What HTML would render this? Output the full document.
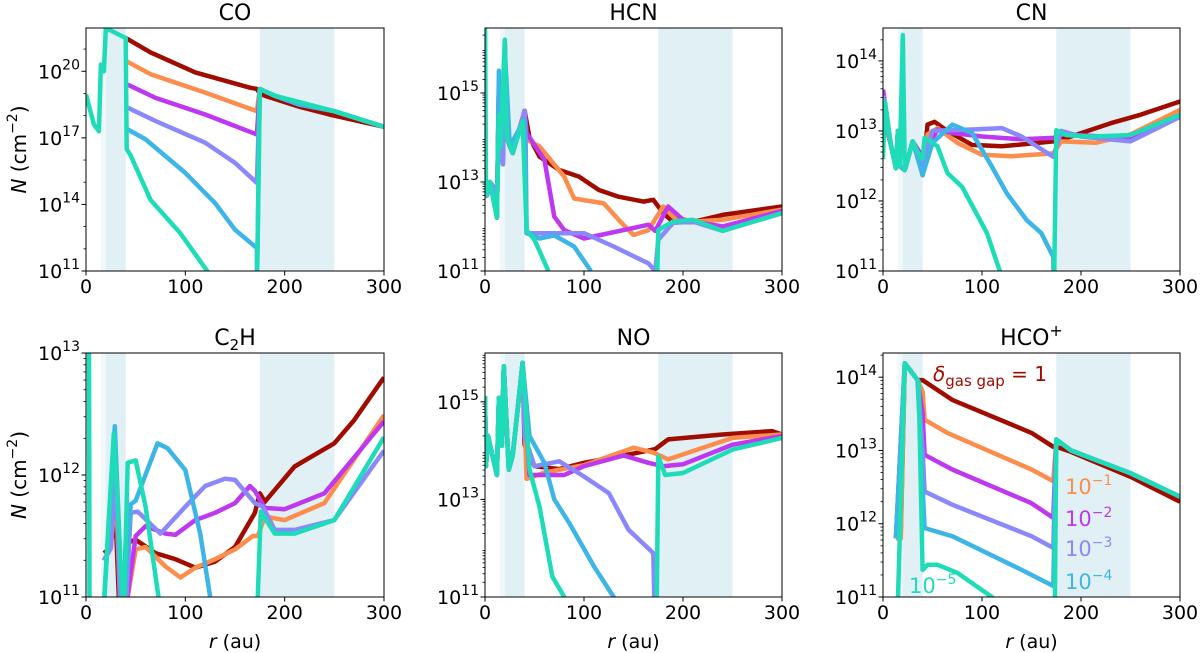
<!DOCTYPE html>
<html><head><meta charset="utf-8">
<style>
html,body{margin:0;padding:0;background:#fff;}
svg{display:block;font-family:"DejaVu Sans","Liberation Sans",sans-serif;}
</style></head>
<body>
<svg id="fig" width="1200" height="653" viewBox="0 0 1200 653" xmlns="http://www.w3.org/2000/svg"></svg>
<script>
// ---- data: [r (au), log10 N (cm^-2)] ----
const colors = ['#a00c00','#fd8d4c','#bd38ef','#8b88fb','#3db5e6','#1fdcb8'];
const seriesNames = ['delta-1','delta-1e-1','delta-1e-2','delta-1e-3','delta-1e-4','delta-1e-5'];

const coOuter = [[175,19.2],[190,18.9],[215,18.5],[250,18.2],[300,17.5]];
const coRed = [[40,21.5],[65,20.85],[110,19.95],[165,19.26],[172,19.2],[175,19.0],[180,18.9],[215,18.4],[245,18.05],[300,17.5]];
const coOrange = [[40,20.47],[65,19.87],[120,19.04],[172,18.2]].concat(coOuter);
const coPurple = [[42,19.4],[70,18.8],[120,18.05],[172,17.15]].concat(coOuter);
const coLav = [[42,18.36],[70,17.76],[120,16.78],[150,15.87],[172,14.97]].concat(coOuter);
const coBlue = [[42,17.38],[60,16.93],[100,15.42],[130,14.06],[150,12.86],[172,12.03],[172,10]].concat(coOuter);
const coTeal = [[0,18.96],[8,17.6],[13,17.3],[15,20.3],[18,20.0],[20,22.0],[22,21.9],[40,21.5],[41,16.5],[45,16.2],[65,14.2],[95,12.7],[122,11],[130,10],[172,10],[175,19.2],[190,18.9],[250,18.2],[300,17.5]];

const hcnInner = [[0,12.67],[2,12.7],[5,13.0],[8,12.9],[12,12.2],[14,15.2],[16,14.0],[18,13.4],[20,16.1],[22,14.0],[25,13.8],[28,13.65],[35,14.2],[40,14.6]];
const hcnRed = hcnInner.concat([[45,14.0],[55,13.57],[75,13.27],[95,13.12],[115,12.82],[135,12.67],[160,12.56],[170,12.6],[180,12.3],[190,12.1],[210,12.1],[240,12.26],[300,12.45]]);
const hcnOrange = hcnInner.concat([[42,13.95],[55,13.8],[80,13.12],[90,12.63],[120,12.52],[135,12.15],[150,11.81],[165,11.92],[180,12.45],[190,12.22],[210,12.11],[240,12.15],[300,12.38]]);
const hcnPurple = hcnInner.concat([[42,14.1],[60,13.5],[70,12.22],[80,11.92],[100,11.73],[140,11.92],[165,12.04],[172,11.9],[185,12.45],[200,12.15],[240,12.0],[300,12.35]]);
const hcnLav = hcnInner.concat([[41,14.0],[42,11.85],[100,11.85],[130,11.55],[165,11.17],[172,11.0],[175,11.7],[190,12.08],[210,12.11],[240,11.9],[300,12.3]]);
const hcnBlue = [[0,12.67],[5,13.0],[12,12.2],[14,15.5],[16,14.0],[20,16.0],[25,13.8],[35,14.2],[40,14.4],[42,11.85],[55,11.73],[70,11.8],[90,11.55],[107,11]];
const hcnTeal = [[0,17],[1,12.7],[5,13.0],[12,12.2],[14,14.5],[16,13.8],[20,16.2],[22,14.0],[25,13.8],[28,13.65],[38,14.36],[42,11.92],[50,11.7],[64,11],[70,10],[173,10],[175,11.92],[190,12.11],[210,12.15],[240,11.9],[300,12.3]];

const cnInner = [[0,13.2],[8,12.8],[13,12.47],[15,13.0],[17,12.5],[22,12.44],[30,12.85],[35,12.7],[40,12.37]];
const cnRed = cnInner.concat([[45,13.09],[52,13.13],[65,13.0],[90,12.8],[120,12.78],[150,12.82],[172,12.85],[190,12.92],[230,13.11],[260,13.23],[300,13.42]]);
const cnOrange = cnInner.concat([[45,12.95],[55,13.04],[75,12.83],[100,12.66],[130,12.64],[172,12.68],[180,12.85],[215,12.83],[250,12.95],[300,13.3]]);
const cnPurple = [[0,13.59],[8,12.8],[13,12.47],[15,13.0],[17,12.5],[22,12.44],[30,12.85],[40,12.63],[55,13.02],[70,12.97],[100,12.92],[140,12.88],[172,12.9],[180,12.95],[250,12.9],[300,13.23]];
const cnLav = [[0,13.5],[8,12.8],[13,12.47],[15,13.0],[17,12.5],[22,12.44],[30,12.85],[40,12.5],[50,13.0],[90,13.02],[120,13.04],[140,12.92],[172,12.63],[180,13.0],[200,12.92],[250,12.85],[300,13.2]];
const cnBlue = [[0,13.3],[8,12.8],[13,12.47],[15,13.0],[17,12.5],[22,12.44],[30,12.85],[40,12.37],[50,12.83],[70,13.09],[90,12.97],[110,12.49],[125,12.11],[145,11.73],[160,11.54],[172,11.2],[173,10]];
const cnTeal = [[0,12.6],[2,13.42],[8,12.8],[13,12.47],[15,13.0],[17,12.5],[20,14.37],[22,12.44],[30,12.85],[35,12.7],[40,12.6],[42,12.9],[55,12.78],[65,12.4],[80,12.2],[105,11.54],[118,11],[125,10],[172,10],[175,13.01],[185,12.94],[210,12.92],[250,12.94],[300,13.23]];

const c2hRed = [[18,11.36],[23,11.39],[30,11.62],[34,10.8],[38,10.8],[40,11.44],[50,11.47],[70,11.36],[90,11.31],[110,11.24],[130,11.29],[150,11.41],[170,11.69],[175,11.85],[180,11.78],[210,12.07],[250,12.26],[270,12.45],[300,12.8]];
const c2hOrange = [[18,11.3],[25,11.4],[30,11.9],[35,10.8],[40,10.9],[50,11.39],[60,11.41],[80,11.25],[95,11.16],[110,11.24],[130,11.31],[150,11.39],[168,11.5],[173,11.5],[180,11.66],[200,11.63],[240,11.77],[300,12.49]];
const c2hPurple = [[18,11.3],[25,11.4],[30,12.1],[35,10.8],[40,10.9],[50,11.5],[60,11.58],[80,11.52],[90,11.51],[110,11.63],[130,11.69],[150,11.77],[165,11.91],[170,11.87],[180,11.73],[200,11.72],[240,11.85],[300,12.44]];
const c2hLav = [[18,11.3],[25,11.4],[30,12.1],[35,10.8],[40,10.9],[45,11.69],[52,11.7],[75,11.52],[100,11.74],[120,11.91],[140,11.97],[150,11.96],[170,11.77],[178,11.74],[190,11.55],[210,11.55],[250,11.63],[300,12.2]];
const c2hBlue = [[17,10.8],[29,12.4],[37,10.8],[45,11.76],[50,11.79],[72,12.26],[82,12.22],[100,12.04],[115,11.52],[125,11.0],[128,10.8]];
const c2hTeal = [[0,13.2],[3,13.2],[3.5,10.8],[17,10.8],[28,12.34],[38,10.8],[42,12.1],[50,12.12],[60,11.74],[73,11.0],[75,10.8],[172,10.8],[176,11.7],[190,11.52],[210,11.52],[250,11.63],[300,12.31]];

const noInner = [[0,15.11],[1,13.68],[3,14.3],[12,13.5],[14,15.08],[17,14.1],[19,15.73],[24,13.61],[28,13.9],[38,15.8]];
const noRed = noInner.concat([[40,14.12],[50,13.68],[75,13.62],[100,13.75],[140,13.9],[165,14.0],[172,14.03],[185,14.23],[240,14.33],[290,14.4],[300,14.33]]);
const noOrange = noInner.concat([[42,13.42],[60,13.55],[100,13.7],[150,14.06],[170,13.96],[185,13.82],[250,14.26],[300,14.33]]);
const noPurple = noInner.concat([[45,13.5],[80,13.5],[100,13.68],[140,13.9],[165,13.75],[180,13.68],[200,13.72],[250,14.12],[300,14.3]]);
const noLav = noInner.concat([[40,14.3],[50,13.68],[75,13.78],[100,13.47],[125,13.13],[145,12.38],[170,11.9],[172,10]]);
const noBlue = noInner.concat([[45,14.3],[60,13.75],[70,13.0],[85,12.52],[110,11.63],[130,11.0],[135,10]]);
const noTeal = noInner.concat([[45,13.61],[55,12.85],[68,11.42],[80,11.0],[85,10],[173,10],[175,13.88],[182,13.5],[200,13.54],[250,14.02],[300,14.26]]);

const hcoOuter = [[175,13.15],[190,13.0],[250,12.69],[300,12.37]];
const hcoRed = [[13,11.8],[18,11.9],[22,14.19],[35,13.96],[40,13.96],[70,13.69],[150,13.24],[172,13.05],[175,13.05],[190,12.98],[250,12.64],[300,12.3]];
const hcoOrange = [[13,11.8],[18,11.8],[22,14.19],[35,13.96],[40,13.8],[42,13.42],[65,13.24],[150,12.74],[172,12.58]].concat(hcoOuter);
const hcoPurple = [[13,11.8],[22,14.19],[35,13.96],[40,13.5],[42,12.94],[70,12.74],[150,12.28],[172,12.08]].concat(hcoOuter);
const hcoLav = [[13,11.8],[22,14.19],[35,13.96],[40,13.0],[42,12.44],[70,12.26],[150,11.83],[172,11.67]].concat(hcoOuter);
const hcoBlue = [[13,11.8],[22,14.19],[35,13.96],[40,12.5],[42,11.94],[70,11.83],[140,11.37],[172,11.15]].concat(hcoOuter);
const hcoTeal = [[13,10],[22,14.19],[35,13.96],[36,13.94],[40,11.37],[45,11.44],[55,11.44],[75,11.33],[110,11.0],[120,10],[173,10],[175,13.15],[190,13.0],[250,12.69],[300,12.37]];

const xTicks = [0,100,200,300];
const bands = [[15,20,0.18],[20,40,0.38],[175,250,0.38]];

const panels = [
 {name:'co',title:'CO',x0:86,x1:384,y0:28,y1:271,lmin:11,lmax:21.95,ticks:[11,14,17,20],minorStep:1,row:0,col:0,data:[coRed,coOrange,coPurple,coLav,coBlue,coTeal]},
 {name:'hcn',title:'HCN',x0:485,x1:782,y0:28,y1:271,lmin:11,lmax:16.46,ticks:[11,13,15],minorStep:0,row:0,col:1,data:[hcnRed,hcnOrange,hcnPurple,hcnLav,hcnBlue,hcnTeal]},
 {name:'cn',title:'CN',x0:883,x1:1180,y0:28,y1:271,lmin:11,lmax:14.47,ticks:[11,12,13,14],minorStep:0,row:0,col:2,data:[cnRed,cnOrange,cnPurple,cnLav,cnBlue,cnTeal]},
 {name:'c2h',title:'C<tspan font-size="15" dy="5">2</tspan><tspan dy="-5">H</tspan>',x0:86,x1:384,y0:353,y1:597,lmin:11,lmax:13,ticks:[11,12,13],minorStep:0,row:1,col:0,data:[c2hRed,c2hOrange,c2hPurple,c2hLav,c2hBlue,c2hTeal]},
 {name:'no',title:'NO',x0:485,x1:782,y0:353,y1:597,lmin:11,lmax:16,ticks:[11,13,15],minorStep:0,row:1,col:1,data:[noRed,noOrange,noPurple,noLav,noBlue,noTeal]},
 {name:'hco',title:'HCO<tspan font-size="16" dy="-9">+</tspan>',x0:883,x1:1180,y0:353,y1:597,lmin:11,lmax:14.33,ticks:[11,12,13,14],minorStep:0,row:1,col:2,data:[hcoRed,hcoOrange,hcoPurple,hcoLav,hcoBlue,hcoTeal]}
];

const NS='http://www.w3.org/2000/svg';
const svg=document.getElementById('fig');
function mk(tag,parent){const e=document.createElementNS(NS,tag);parent.appendChild(e);return e;}

panels.forEach((p,pi)=>{
  const sx=r=>p.x0+(r/300)*(p.x1-p.x0);
  const sy=l=>p.y1-(l-p.lmin)/(p.lmax-p.lmin)*(p.y1-p.y0);
  const g=mk('g',svg);
  
  
  const cp=mk('clipPath',g); cp.setAttribute('id','clip'+pi);
  const cr=mk('rect',cp); cr.setAttribute('x',p.x0);cr.setAttribute('y',p.y0);cr.setAttribute('width',p.x1-p.x0);cr.setAttribute('height',p.y1-p.y0);
  bands.forEach(b=>{
    const r=mk('rect',g);
    
    
    r.setAttribute('x',sx(b[0]));r.setAttribute('y',p.y0);r.setAttribute('width',sx(b[1])-sx(b[0]));r.setAttribute('height',p.y1-p.y0);
    r.setAttribute('fill','#add8e6');r.setAttribute('fill-opacity',b[2]);
  });
  const lg=mk('g',g); lg.setAttribute('clip-path','url(#clip'+pi+')');
  p.data.forEach((d,si)=>{
    const pl=mk('polyline',lg);
    
    
    pl.setAttribute('points',d.map(q=>sx(q[0]).toFixed(1)+','+sy(q[1]).toFixed(1)).join(' '));
    pl.setAttribute('fill','none');pl.setAttribute('stroke',colors[si]);pl.setAttribute('stroke-width','4.5');
    pl.setAttribute('stroke-linejoin','round');
  });
  const fr=mk('rect',g);
  
  
  fr.setAttribute('x',p.x0);fr.setAttribute('y',p.y0);fr.setAttribute('width',p.x1-p.x0);fr.setAttribute('height',p.y1-p.y0);
  fr.setAttribute('fill','none');fr.setAttribute('stroke','#000');fr.setAttribute('stroke-width','1');
  for(let dec=Math.floor(p.lmin);dec<Math.ceil(p.lmax);dec++){
    const mins = p.minorStep? [1]:[2,3,4,5,6,7,8,9].map(m=>Math.log10(m));
    mins.forEach(m=>{const l=dec+m; if(l>p.lmin&&l<p.lmax&&!p.ticks.includes(l)){const t=mk('line',g);t.setAttribute('x1',p.x0-2.5);t.setAttribute('x2',p.x0);t.setAttribute('y1',sy(l));t.setAttribute('y2',sy(l));t.setAttribute('stroke','#000');t.setAttribute('stroke-width','0.8');}});
  }
  p.ticks.forEach(l=>{
    const t=mk('line',g);t.setAttribute('x1',p.x0-4.5);t.setAttribute('x2',p.x0);t.setAttribute('y1',sy(l));t.setAttribute('y2',sy(l));t.setAttribute('stroke','#000');
    const tx=mk('text',g);
    
    
    tx.setAttribute('x',p.x0-6);tx.setAttribute('y',sy(l)+7);tx.setAttribute('text-anchor','end');tx.setAttribute('font-size','19');
    tx.innerHTML='10<tspan font-size="14" dy="-9">'+l+'</tspan>';
  });
  xTicks.forEach(v=>{
    const t=mk('line',g);t.setAttribute('x1',sx(v));t.setAttribute('x2',sx(v));t.setAttribute('y1',p.y1);t.setAttribute('y2',p.y1+4.5);t.setAttribute('stroke','#000');
    const tx=mk('text',g);
    
    
    tx.setAttribute('x',sx(v));tx.setAttribute('y',p.y1+22);tx.setAttribute('text-anchor','middle');tx.setAttribute('font-size','19');
    tx.textContent=v;
  });
  const ti=mk('text',g);
  
  
  ti.setAttribute('x',(p.x0+p.x1)/2);ti.setAttribute('y',p.y0-8);ti.setAttribute('text-anchor','middle');ti.setAttribute('font-size','22');
  ti.innerHTML=p.title;
  if(p.col===0){
    const yl=mk('text',g);
    
    
    const cy=(p.y0+p.y1)/2;
    yl.setAttribute('transform','translate(26,'+cy+') rotate(-90)');yl.setAttribute('text-anchor','middle');yl.setAttribute('font-size','20');
    yl.innerHTML='<tspan font-style="italic">N</tspan> (cm<tspan font-size="14" dy="-9">−2</tspan><tspan dy="9">)</tspan>';
  }
  if(p.row===1){
    const xl=mk('text',g);
    
    
    xl.setAttribute('x',(p.x0+p.x1)/2);xl.setAttribute('y',648);xl.setAttribute('text-anchor','middle');xl.setAttribute('font-size','19');
    xl.innerHTML='<tspan font-style="italic">r</tspan> (au)';
  }
});
</script>
<script>
const L=[
 ['legend-delta-1','#a00c00',933,381,'<tspan font-style="italic">δ</tspan><tspan font-size="15" dy="5">gas gap</tspan><tspan dy="-5"> = 1</tspan>',20],
 ['legend-delta-1e-1','#fd8d4c',1065,494,'10<tspan font-size="14" dy="-9">−1</tspan>',21],
 ['legend-delta-1e-2','#bd38ef',1065,526,'10<tspan font-size="14" dy="-9">−2</tspan>',21],
 ['legend-delta-1e-3','#8b88fb',1065,556,'10<tspan font-size="14" dy="-9">−3</tspan>',21],
 ['legend-delta-1e-4','#3db5e6',1065,589,'10<tspan font-size="14" dy="-9">−4</tspan>',21],
 ['legend-delta-1e-5','#1fdcb8',909,593,'10<tspan font-size="14" dy="-9">−5</tspan>',21]
];
const fig=document.getElementById('fig');
L.forEach(a=>{
  const t=document.createElementNS('http://www.w3.org/2000/svg','text');
  
  
  t.setAttribute('x',a[2]);t.setAttribute('y',a[3]);t.setAttribute('fill',a[1]);t.setAttribute('font-size',a[5]);
  t.innerHTML=a[4];
  fig.appendChild(t);
});
</script>
</body></html>
